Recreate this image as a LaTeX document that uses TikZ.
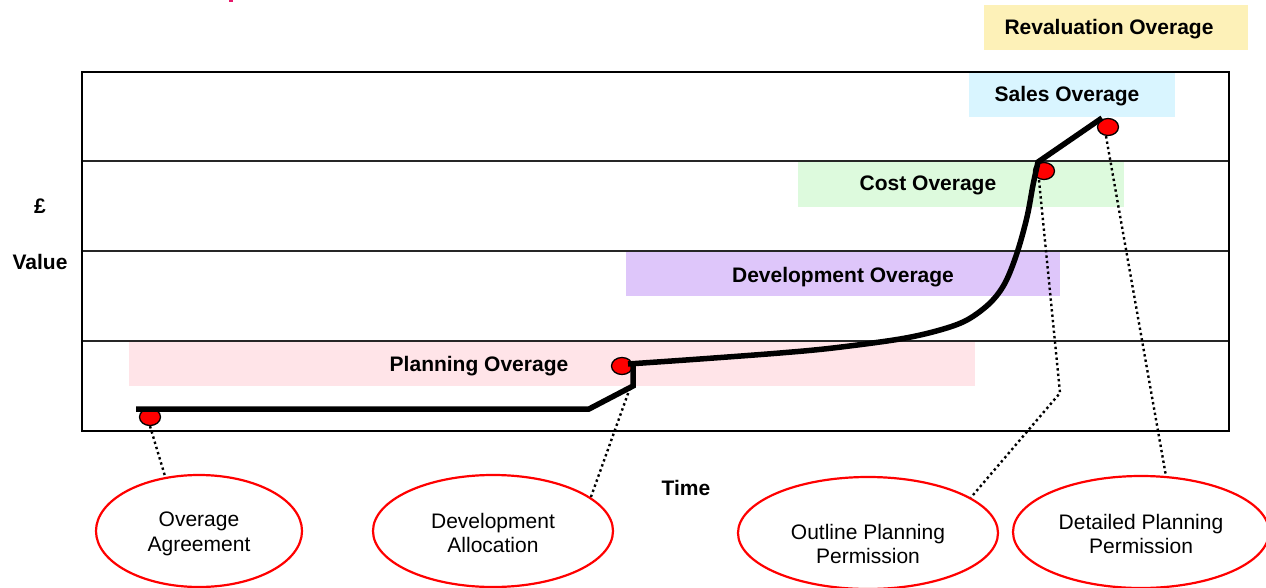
\documentclass[tikz,border=0pt]{standalone}
\usepackage{fontspec}
\setmainfont{Liberation Sans}
\usetikzlibrary{shapes.geometric}

\definecolor{revband}{RGB}{253,241,184}
\definecolor{salesband}{RGB}{217,245,255}
\definecolor{costband}{RGB}{221,250,221}
\definecolor{devband}{RGB}{222,198,250}
\definecolor{planband}{RGB}{255,228,232}
\definecolor{titlemag}{RGB}{230,24,106}

\tikzset{
  band/.style={fill=#1, draw=none},
  bandlabel/.style={font=\fontsize{21}{25}\selectfont\bfseries, inner sep=0pt, anchor=base},
  axislabel/.style={font=\fontsize{21}{25}\selectfont\bfseries, inner sep=0pt, anchor=base},
  gridline/.style={line width=1.4pt, black!85},
  milestone/.style={ellipse, draw=red, line width=2.2pt, inner sep=0pt},
  mtext/.style={align=center, inner sep=0pt, font=\fontsize{21}{24.5}\selectfont},
  dot/.style={ellipse, fill=red, draw=black, line width=1.3pt,
    minimum width=21pt, minimum height=17pt, inner sep=0pt},
  leader/.style={line width=2.4pt, dash pattern=on 2.4pt off 3pt},
  track/.style={line width=5.5pt, line join=miter}
}

\begin{document}
\begin{tikzpicture}[x=1pt, y=-1pt]
\useasboundingbox (0,0) rectangle (1266,588);

% clipped heading fragment
\fill[titlemag] (229,0) rectangle (233,2);

% overage bands
\fill[band=revband]   (984,5)   rectangle (1248,50);
\fill[band=salesband] (969,72)  rectangle (1175,117);
\fill[band=costband]  (798,162) rectangle (1124,207);
\fill[band=devband]   (626,251) rectangle (1060,296);
\fill[band=planband]  (129,341) rectangle (975,386);

\node[bandlabel] (rev)   at (1109,35)  {Revaluation Overage};
\node[bandlabel] (sales) at (1067,102) {Sales Overage};
\node[bandlabel] (cost)  at (928,191)  {Cost Overage};
\node[bandlabel] (dev)   at (843,282)  {Development Overage};
\node[bandlabel] (plan)  at (479,371)  {Planning Overage};

% value grid
\draw[gridline] (82,161) -- (1229,161);
\draw[gridline] (82,251) -- (1229,251);
\draw[gridline] (82,341) -- (1229,341);
\draw[line width=2pt] (82,72) rectangle (1229,431);

% axis labels
\node[axislabel] (pound) at (40,214) {£};
\node[axislabel] (value) at (40,269) {Value};
\node[axislabel] (time)  at (686,495) {Time};

% milestone ellipses
\node[milestone, minimum width=206pt, minimum height=112pt] (oa) at (199,531) {};
\node[milestone, minimum width=240pt, minimum height=112pt] (da) at (493,531) {};
\node[milestone, minimum width=260pt, minimum height=112pt] (op) at (868,533) {};
\node[milestone, minimum width=256pt, minimum height=112pt] (dp) at (1141,532) {};

\node[mtext] (oat) at ([yshift=-3pt]oa.center) {Overage\\Agreement};
\node[mtext] (dat) at ([yshift=-2pt]da.center) {Development\\Allocation};
\node[mtext] (opt) at ([yshift=-11pt]op.center) {Outline Planning\\Permission};
\node[mtext] (dpt) at ([yshift=-2pt]dp.center) {Detailed Planning\\Permission};

% milestone markers on the value track
\node[dot] (d1) at (150,417) {};
\node[dot] (d2) at (622,366) {};
\node[dot] (d3) at (1044,171) {};
\node[dot] (d4) at (1108,127) {};

\coordinate (kink) at (630,388);
\coordinate (bend) at (1060,393);

% leader lines from markers to milestones
\draw[leader] (d1.south) -- (oa.122);
\draw[leader] (kink) -- (da.19);
\draw[leader] ([xshift=-5pt]d3.south) -- (bend) -- (op.19);
\draw[leader] ([xshift=-2pt]d4.south) -- (dp.66);

% value track
\draw[track] (136,409) -- (589,409) -- (633,386) -- (633,364);
\draw[track] plot[smooth, tension=0.55] coordinates {
  (628,364) (700,359) (780,353) (833,348) (900,339) (940,330) (967,320)
  (990,303) (1005,283) (1017,253) (1027,217) (1033,185) (1038,162)}
  -- (1102,118);
\end{tikzpicture}
\end{document}
